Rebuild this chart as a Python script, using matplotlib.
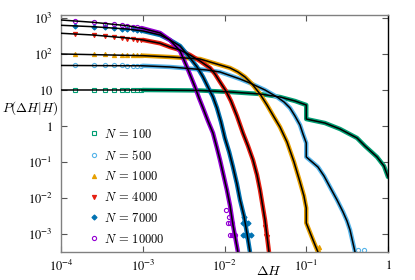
import matplotlib
matplotlib.use('Agg')
import matplotlib.pyplot as plt
from matplotlib.lines import Line2D

plt.rcParams['mathtext.fontset'] = 'cm'

# ---------------- data ----------------
labels = [r'$N\,=\,100$', r'$N\,=\,500$', r'$N\,=\,1000$', r'$N\,=\,4000$', r'$N\,=\,7000$', r'$N\,=\,10000$']
colors = ['#009e73', '#56b4e9', '#e69f00', '#e51e10', '#0072b2', '#9400d3']
markers = ['s', 'o', '^', 'v', 'D', 'o']
filled = [False, False, True, True, True, False]

# black theory curves
x_100 = [1e-4, 1e-3, 5e-3, 1.17e-2, 2.72e-2, 4.77e-2, 7.28e-2, 0.1, 0.1, 0.169, 0.259, 0.418, 0.523, 0.734, 0.893, 1.0]
y_100 = [10, 10, 9.7, 8.8, 7.74, 6.39, 4.95, 3.83, 1.56, 1.21, 0.825, 0.464, 0.278, 0.138, 0.0774, 0.0383]

x_500 = [1e-4, 1e-3, 2.15e-3, 6.11e-3, 8.81e-3, 1.55e-2, 2.05e-2, 3.13e-2, 4.39e-2, 5.35e-2, 6.33e-2,
         7.28e-2, 8.38e-2, 9.12e-2, 0.1, 0.1, 0.139, 0.165, 0.195, 0.238, 0.282, 0.315, 0.343, 0.395]
y_500 = [48, 47, 43.6, 35.9, 31.6, 20.2, 15.6, 10.0, 6.39, 4.64, 3.16,
         1.90, 1.07, 0.60, 0.337, 0.138, 0.0726, 0.0408, 0.0202, 8.8e-3, 4.08e-3, 2.3e-3, 1.29e-3, 3.16e-4]

x_1000 = [1e-4, 1e-3, 2.15e-3, 5.01e-3, 1.17e-2, 1.46e-2, 1.78e-2, 2.17e-2, 2.72e-2, 3.31e-2, 4.03e-2,
          4.77e-2, 5.82e-2, 7.08e-2, 8.38e-2, 9.37e-2, 0.1, 0.1, 0.121, 0.139]
y_1000 = [100, 90, 82.5, 72.6, 40.9, 31.6, 23.0, 14.7, 7.74, 3.83, 1.78,
          0.938, 0.359, 0.1, 0.0278, 0.0114, 5.27e-3, 2.02e-3, 6.81e-4, 3.16e-4]

x_4000 = [1e-4, 2.46e-4, 6.42e-4, 1.01e-3, 1.63e-3, 2.15e-3, 2.86e-3, 3.79e-3, 5.01e-3, 6.65e-3, 7.65e-3,
          8.81e-3, 1.04e-2, 1.20e-2, 1.42e-2, 1.68e-2, 1.94e-2, 2.23e-2, 2.50e-2, 2.72e-2, 3.13e-2, 3.50e-2]
y_4000 = [376, 337, 278, 245, 198, 156, 129, 93.8, 63.9, 40.9, 27.8,
          16.7, 9.38, 4.95, 1.90, 0.639, 0.278, 0.114, 0.0435, 0.0167, 2.45e-3, 3.16e-4]

x_7000 = [1e-4, 2.46e-4, 6.42e-4, 1.01e-3, 1.63e-3, 2.15e-3, 2.86e-3, 3.79e-3, 4.62e-3, 5.46e-3, 6.28e-3,
          7.23e-3, 8.09e-3, 9.06e-3, 1.01e-2, 1.14e-2, 1.27e-2, 1.42e-2, 1.55e-2, 1.73e-2, 1.88e-2, 2.05e-2]
y_7000 = [627, 573, 494, 435, 337, 245, 167, 77.4, 43.6, 23.0, 12.1,
          6.39, 3.16, 1.29, 0.464, 0.190, 0.0726, 0.0245, 0.0088, 3.16e-3, 1.07e-3, 3.16e-4]

x_10000 = [1e-4, 2.46e-4, 6.42e-4, 1.01e-3, 1.63e-3, 2.15e-3, 2.86e-3, 3.47e-3, 3.89e-3, 4.36e-3, 4.88e-3,
           5.46e-3, 6.28e-3, 7.23e-3, 8.09e-3, 8.81e-3, 1.07e-2, 1.17e-2, 1.27e-2, 1.46e-2]
y_10000 = [880, 760, 611, 511, 383, 245, 121, 43.6, 23.0, 12.1, 6.0,
           3.16, 1.38, 0.639, 0.245, 0.114, 0.0167, 6.0e-3, 1.78e-3, 3.16e-4]

# sparse simulation points at small Delta H (bin centres)
bin_x = [1.5e-4, 2.5e-4, 3.5e-4, 4.5e-4, 5.5e-4, 6.5e-4, 7.5e-4, 8.5e-4, 9.5e-4]
pts_100 = [10, 10, 10, 10, 10, 10, 10, 10, 10]
pts_500 = [48, 48, 48, 48, 48, 47.5, 47.5, 47, 47]
pts_1000 = [98, 97, 97, 96, 96, 95, 95, 94, 94]
pts_4000 = [359, 337, 310, 290, 275, 265, 257, 250, 245]
pts_7000 = [615, 573, 545, 520, 505, 494, 480, 465, 450]
pts_10000 = [840, 760, 700, 660, 630, 611, 580, 555, 535]

# scattered simulation points in the low-probability tails
tail_x_100 = []
tail_y_100 = []
tail_x_500 = [0.43, 0.51]
tail_y_500 = [3.6e-4, 3.6e-4]
tail_x_1000 = [0.14, 0.145]
tail_y_1000 = [3.8e-4, 4.4e-4]
tail_x_4000 = [3.2e-2, 3.35e-2, 3.1e-2]
tail_y_4000 = [9.0e-4, 8.5e-4, 1.6e-3]
tail_x_7000 = [1.68e-2, 1.8e-2, 1.95e-2, 2.1e-2, 1.68e-2, 1.85e-2, 1.94e-2, 1.72e-2]
tail_y_7000 = [9.4e-4, 9.4e-4, 9.4e-4, 9.4e-4, 2.0e-3, 2.0e-3, 2.0e-3, 3.0e-3]
tail_x_10000 = [1.17e-2, 1.22e-2, 1.27e-2, 1.36e-2, 1.10e-2, 1.16e-2, 1.23e-2, 1.12e-2, 1.05e-2]
tail_y_10000 = [9.4e-4, 9.4e-4, 9.4e-4, 9.4e-4, 2.0e-3, 2.0e-3, 2.0e-3, 3.0e-3, 4.6e-3]

curves_x = [x_100, x_500, x_1000, x_4000, x_7000, x_10000]
curves_y = [y_100, y_500, y_1000, y_4000, y_7000, y_10000]
points_y = [pts_100, pts_500, pts_1000, pts_4000, pts_7000, pts_10000]
tails_x = [tail_x_100, tail_x_500, tail_x_1000, tail_x_4000, tail_x_7000, tail_x_10000]
tails_y = [tail_y_100, tail_y_500, tail_y_1000, tail_y_4000, tail_y_7000, tail_y_10000]

x_ticks = [1e-4, 1e-3, 1e-2, 1e-1, 1]
x_ticklabels = [r'$\mathit{10^{-4}}$', r'$\mathit{10^{-3}}$', r'$\mathit{10^{-2}}$', r'$\mathit{10^{-1}}$', r'$\mathit{1}$']
y_ticks = [1e-3, 1e-2, 1e-1, 1, 10, 1e2, 1e3]
y_ticklabels = [r'$\mathit{10^{-3}}$', r'$\mathit{10^{-2}}$', r'$\mathit{10^{-1}}$', r'$\mathit{1}$',
                r'$\mathit{10}$', r'$\mathit{10^{2}}$', r'$\mathit{10^{3}}$']

# ---------------- figure ----------------
fig = plt.figure(figsize=(4.15, 2.8), dpi=100)
ax = fig.add_axes([61 / 415, 1 - 252 / 280, (388 - 61) / 415, (252 - 15) / 280])
ax.set_xscale('log')
ax.set_yscale('log')

band_start = 1e-3
for cx, cy, py, tx, ty, c, m, f in zip(curves_x, curves_y, points_y, tails_x, tails_y,
                                       colors, markers, filled):
    ms = 3.0 if m != 'D' else 2.6
    bx = [a for a in cx if a >= band_start]
    by = [b for a, b in zip(cx, cy) if a >= band_start]
    ax.plot(bx, by, color=c, lw=3.2, solid_capstyle='round', solid_joinstyle='round', zorder=2)
    ax.plot(bin_x, py, linestyle='none', marker=m, ms=ms,
            mfc=c if f else 'none', mec=c, mew=0.8, zorder=2)
    ax.plot(tx, ty, linestyle='none', marker=m, ms=ms,
            mfc=c if f else 'none', mec=c, mew=0.8, zorder=2)
    ax.plot(cx, cy, color='black', lw=1.1, solid_joinstyle='round', zorder=3)

ax.set_xlim(1e-4, 1)
ax.set_ylim(10 ** -3.5, 10 ** 3.083)

ax.set_xticks(x_ticks)
ax.set_xticklabels(x_ticklabels)
ax.set_yticks(y_ticks)
ax.set_yticklabels(y_ticklabels)
ax.minorticks_off()
for t in ax.get_xticklabels() + ax.get_yticklabels():
    t.set_math_fontfamily('stix')
    t.set_fontsize(9)
ax.tick_params(which='both', direction='in', length=4, width=0.8, color='#555555',
               top=True, right=True, pad=5)
ax.tick_params(axis='y', pad=6)

for s in ['left', 'bottom', 'top']:
    ax.spines[s].set_color('#808080')
    ax.spines[s].set_linewidth(1.0)
ax.spines['right'].set_color('black')
ax.spines['right'].set_linewidth(1.0)

handles = [Line2D([], [], linestyle='none', marker=m, ms=3.0 if m != 'D' else 2.6,
                  mfc=c if f else 'none', mec=c, mew=0.8)
           for c, m, f in zip(colors, markers, filled)]
ax.legend(handles, labels, loc='upper left', bbox_to_anchor=(0.075, 0.545), frameon=False,
          fontsize=9, handlelength=0.5, handletextpad=0.55, labelspacing=0.62,
          borderaxespad=0.0)

fig.text(30 / 415, 1 - 108 / 280, r'$P(\Delta H|H)$', fontsize=9.5, ha='center', va='center')
fig.text(269 / 415, 1 - 271 / 280, r'$\Delta H$', fontsize=10, ha='center', va='center')

fig.savefig('out.png', dpi=100)
